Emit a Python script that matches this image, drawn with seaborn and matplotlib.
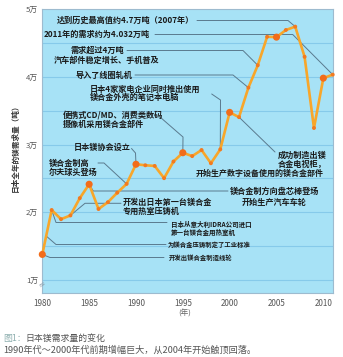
import numpy as np
import pandas as pd
import matplotlib
matplotlib.use("Agg")
import matplotlib.pyplot as plt
import seaborn as sns

# ---------------- data ----------------
years = list(range(1980, 2012))
demand = [13800, 20350, 19000, 19550, 22100, 24150, 20500, 21500, 22900, 24200,
          27100, 26950, 26850, 25050, 27500, 28800, 28300, 29200, 27250, 29300,
          34750, 34050, 38400, 41700, 45900, 45850, 46900, 47400, 42950, 32450,
          39800, 40320]
xtick_vals = [1980, 1985, 1990, 1995, 2000, 2005, 2010]
xtick_labels = ["1980", "1985", "1990", "1995", "2000", "2005", "2010"]
ytick_vals = [10000, 20000, 30000, 40000, 50000]
ytick_labels = ["1万", "2万", "3万", "4万", "5万"]
ylabel = "日本全年的镁需求量（吨）"
xlabel = "(年)"
caption_head = "图1："
caption_title = "日本镁需求量的变化"
caption_line2 = "1990年代～2000年代前期增幅巨大，从2004年开始触顶回落。"

sns.set_style("white")
plt.rcParams['font.family'] = ['Noto Sans CJK SC', 'DejaVu Sans']

W, H = 343, 357
fig = plt.figure(figsize=(W / 100, H / 100), dpi=100)
fig.patch.set_facecolor("white")

L, R, T, B = 42.3, 332.7, 9.0, 293.0
ax = fig.add_axes([L / W, 1 - B / H, (R - L) / W, (B - T) / H])
ax.set_facecolor("#a7e2f6")

df = pd.DataFrame({"year": years, "demand": demand})
df["major"] = df["year"] % 5 == 0

for gy in range(10000, 50000, 5000):
    ax.axhline(gy, color="#86caea", lw=0.8, zorder=0.5)

sns.lineplot(data=df, x="year", y="demand", color="#f8a62a", lw=1.9, ax=ax,
             zorder=3, legend=False)
sns.scatterplot(data=df[~df["major"]], x="year", y="demand", s=8,
                color="#f27a20", edgecolor="none", ax=ax, zorder=4, legend=False)
sns.scatterplot(data=df[df["major"]], x="year", y="demand", s=26,
                color="#f26c1a", edgecolor="none", ax=ax, zorder=5, legend=False)
for c in ax.collections:
    c.set_clip_on(False)
for ln in ax.lines:
    ln.set_clip_on(False)

ax.set_xlim(1980, 2011)
ax.set_ylim(8110, 50000)
ax.set_xticks(xtick_vals)
ax.set_xticklabels(xtick_labels, fontsize=5.8, color="#555555")
ax.set_yticks(ytick_vals)
ax.set_yticklabels(ytick_labels, fontsize=5.6, color="#555555")
ax.tick_params(length=0, pad=3)
ax.tick_params(axis="x", pad=4)
ax.set_xlabel("")
ax.set_ylabel("")
for s in ax.spines.values():
    s.set_color("#9dbbcf")
    s.set_linewidth(0.8)

tf = fig.transFigure
inv = tf.inverted()


def px(x, y):
    return (x / W, 1 - y / H)


def dpt(year):
    v = demand[years.index(year)]
    return tuple(inv.transform(ax.transData.transform((year, v))))


LC = "#5a7a8e"


def leader(pts):
    xs = [p[0] for p in pts]
    ys = [p[1] for p in pts]
    ax.plot(xs, ys, transform=tf, color=LC, lw=0.7, clip_on=False, zorder=2)


leader([px(197, 20.5), px(288, 20.5), dpt(2007)])
leader([px(155, 34.5), px(292.7, 34.5), dpt(2011)])
leader([px(127, 50.5), px(243, 50.5), dpt(2003)])
leader([px(135, 75), px(233, 75), dpt(2002)])
leader([px(211.7, 94), px(220.5, 100), dpt(1999)])
leader([px(160, 117), px(183, 137), dpt(1995)])
leader([px(131.5, 148.5), px(135.5, 153), dpt(1990)])
leader([px(98, 163), px(104, 163), dpt(1989)])
leader([dpt(1983), px(85, 203.3), px(121, 203.3)])
leader([dpt(1985), px(93.3, 191), px(228, 191)])
leader([dpt(2001), px(275, 152)])
leader([dpt(1981), px(56, 222.5), px(167, 222.5)])
leader([px(46.2, 236), px(56, 244.5), px(166, 244.5)])
leader([dpt(1980), px(50, 257.5), px(164, 257.5)])

TC = "#1a1a1a"


def label(x, y, s, size=5.85, ha="left"):
    ax.text(x / W, 1 - y / H, s, transform=tf, fontsize=size, ha=ha,
            va="center", color=TC, fontweight="bold", zorder=6, clip_on=False)


label(57, 20.5, "达到历史最高值约4.7万吨（2007年）")
label(43.5, 34.5, "2011年的需求约为4.032万吨")
label(97, 50, "需求超过4万吨", ha="center")
label(106.5, 60, "汽车部件稳定增长、手机普及", ha="center")
label(75, 75, "导入了线圈轧机")
label(90, 89.5, "日本4家家电企业同时推出使用")
label(90, 97.5, "镁合金外壳的笔记本电脑")
label(63, 115, "便携式CD/MD、消费类数码")
label(63, 124, "摄像机采用镁合金部件")
label(74, 147.5, "日本镁协会设立")
label(48.5, 163, "镁合金制高")
label(48.5, 172, "尔夫球头登场")
label(123, 202.3, "开发出日本第一台镁合金")
label(123, 211, "专用热室压铸机")
label(275, 191.7, "镁合金制方向盘芯棒登场", ha="center")
label(274, 202.3, "开始生产汽车车轮", ha="center")
label(278, 155, "成功制造出镁")
label(278, 164, "合金电视柜，")
label(196, 173, "开始生产数字设备使用的镁合金部件", size=5.75)
label(171, 224, "日本从意大利IDRA公司进口", size=4.7)
label(171, 232.5, "第一台镁合金用热室机", size=4.7)
label(168, 245, "为镁合金压铸制定了工业标准", size=4.55)
label(169, 257.5, "开发出镁合金制造线轮", size=4.55)

# axis break mark near 1万
fig.text(41 / W, 1 - 284 / H, "≈", fontsize=6, color="#8a9aa6", ha="center",
         va="center", rotation=35, family="DejaVu Sans")

# y label
fig.text(15 / W, 1 - 146 / H, ylabel, rotation=90, fontsize=5.5,
         fontweight="bold", color="#333333", ha="center", va="center")
# x unit label
fig.text(185 / W, 1 - 314 / H, xlabel, fontsize=5.5, color="#666666",
         ha="center", va="center")

# caption
fig.text(3 / W, 1 - 338 / H, caption_head, fontsize=6.4, color="#8fb0b0",
         ha="left", va="center")
fig.text(25 / W, 1 - 338 / H, caption_title, fontsize=6.4, color="#555555",
         ha="left", va="center")
fig.text(3 / W, 1 - 350 / H, caption_line2, fontsize=6.6, color="#555555",
         ha="left", va="center")

fig.savefig("out.png", dpi=100)
